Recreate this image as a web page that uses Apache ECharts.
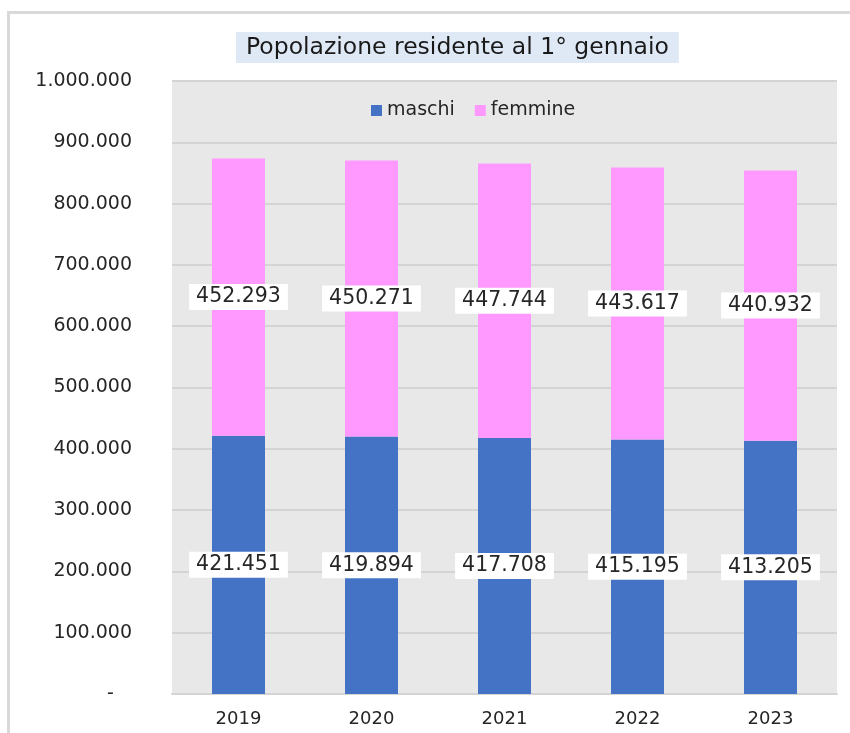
<!DOCTYPE html>
<html>
<head>
<meta charset="utf-8">
<script src="https://cdn.jsdelivr.net/npm/echarts@6/dist/echarts.min.js"></script>
<style>
  html, body { margin: 0; padding: 0; background: #ffffff; }
  #chart { width: 850px; height: 733px; }
</style>
</head>
<body>
<div id="chart"></div>
<script>
// Popolazione residente al 1° gennaio, per sesso
const anni = ['2019', '2020', '2021', '2022', '2023'];
const maschi = [421451, 419894, 417708, 415195, 413205];
const femmine = [452293, 450271, 447744, 443617, 440932];
const yTicks = { min: 0, max: 1000000, step: 100000 };

// Italian thousands separator
function fmt(n) {
  return String(Math.round(n)).replace(/\B(?=(\d{3})+(?!\d))/g, '.');
}

const FONT = 'DejaVu Sans';

const labelStyle = {
  show: true,
  position: 'inside',
  formatter: p => fmt(p.value),
  backgroundColor: '#ffffff',
  color: '#262626',
  fontFamily: FONT,
  fontSize: 20.5,
  padding: [3, 7, 2, 7]
};

const chart = echarts.init(document.getElementById('chart'), null, { renderer: 'canvas' });

chart.setOption({
  animation: false,
  backgroundColor: '#ffffff',
  title: {
    text: 'Popolazione residente al 1° gennaio',
    left: 236,
    top: 32,
    backgroundColor: '#dfe9f5',
    padding: [4, 10, 3, 10],
    textStyle: { fontFamily: FONT, fontSize: 23.5, fontWeight: 'normal', color: '#1a1a1a' }
  },
  legend: {
    top: 96,
    left: 366,
    itemWidth: 11,
    itemHeight: 11,
    itemGap: 20,
    icon: 'rect',
    textStyle: { fontFamily: FONT, fontSize: 19, color: '#262626' },
    data: ['maschi', 'femmine']
  },
  grid: {
    left: 172,
    right: 13,
    top: 81,
    bottom: 39,
    show: true,
    backgroundColor: '#e8e8e8',
    borderWidth: 0
  },
  // outer frame: top and left edges only
  graphic: [
    { type: 'rect', shape: { x: 8, y: 11, width: 842, height: 3 }, style: { fill: '#d9d9d9' } },
    { type: 'rect', shape: { x: 7, y: 11, width: 3, height: 722 }, style: { fill: '#d9d9d9' } }
  ],
  xAxis: {
    type: 'category',
    data: anni,
    axisLine: { show: true, lineStyle: { color: '#d4d4d4', width: 2 } },
    axisTick: { show: false },
    axisLabel: { fontFamily: FONT, fontSize: 18, color: '#262626', margin: 16 }
  },
  yAxis: {
    type: 'value',
    min: yTicks.min,
    max: yTicks.max,
    interval: yTicks.step,
    axisLine: { show: false },
    axisTick: { show: false },
    splitLine: { show: true, lineStyle: { color: '#d4d4d4', width: 2 } },
    axisLabel: {
      fontFamily: FONT,
      fontSize: 19,
      color: '#262626',
      margin: 40,
      formatter: v => (v === 0 ? '-   ' : fmt(v))
    }
  },
  series: [
    {
      name: 'maschi',
      type: 'bar',
      stack: 'tot',
      data: maschi,
      barWidth: 53,
      itemStyle: { color: '#4472c4' },
      label: labelStyle
    },
    {
      name: 'femmine',
      type: 'bar',
      stack: 'tot',
      data: femmine,
      barWidth: 53,
      itemStyle: { color: '#ff99ff' },
      label: labelStyle
    }
  ]
});
</script>
</body>
</html>
